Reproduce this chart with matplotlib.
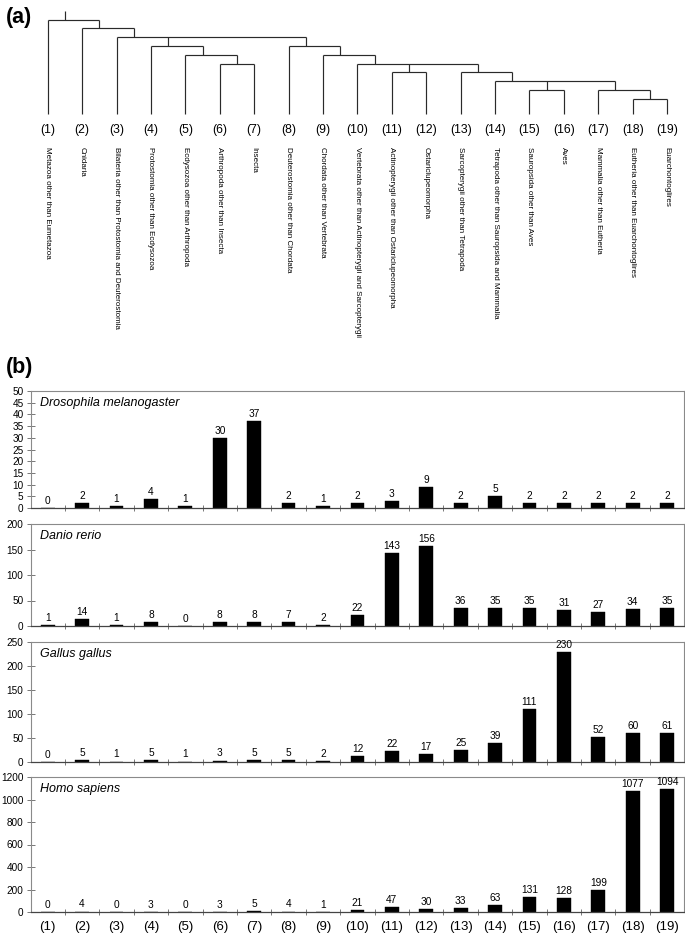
import matplotlib
matplotlib.use("Agg")
import matplotlib.pyplot as plt
import numpy as np

plt.rcParams['font.family'] = ['Liberation Sans', 'DejaVu Sans']

# ---------------- data ----------------
clade_ids = [f"({i})" for i in range(1, 20)]
clade_names = [
    "Metazoa other than Eumetazoa",
    "Cnidaria",
    "Bilateria other than Protostomia and Deuterostomia",
    "Protostomia other than Ecdysozoa",
    "Ecdysozoa other than Arthropoda",
    "Arthropoda other than Insecta",
    "Insecta",
    "Deuterostomia other than Chordata",
    "Chordata other than Vertebrata",
    "Vertebrata other than Actinopterygii and Sarcopterygii",
    "Actinopterygii other than Ostariclupeomorpha",
    "Ostariclupeomorpha",
    "Sarcopterygii other than Tetrapoda",
    "Tetrapoda other than Sauropsida and Mammalia",
    "Sauropsida other than Aves",
    "Aves",
    "Mammalia other than Eutheria",
    "Eutheria other than Euarchontoglires",
    "Euarchontoglires",
]

species = ["Drosophila melanogaster", "Danio rerio", "Gallus gallus", "Homo sapiens"]
drosophila = [0, 2, 1, 4, 1, 30, 37, 2, 1, 2, 3, 9, 2, 5, 2, 2, 2, 2, 2]
danio = [1, 14, 1, 8, 0, 8, 8, 7, 2, 22, 143, 156, 36, 35, 35, 31, 27, 34, 35]
gallus = [0, 5, 1, 5, 1, 3, 5, 5, 2, 12, 22, 17, 25, 39, 111, 230, 52, 60, 61]
homo = [0, 4, 0, 3, 0, 3, 5, 4, 1, 21, 47, 30, 33, 63, 131, 128, 199, 1077, 1094]
y_max = [50, 200, 250, 1200]
y_step = [5, 50, 50, 200]

# tree topology (leaves are clade numbers)
arthropoda = (6, 7)
ecdysozoa = (5, arthropoda)
protostomia = (4, ecdysozoa)
eutheria = (18, 19)
mammalia = (17, eutheria)
sauropsida = (15, 16)
tetrapoda = (14, sauropsida, mammalia)
sarcopterygii = (13, tetrapoda)
actinopterygii = (11, 12)
vertebrata = (10, actinopterygii, sarcopterygii)
chordata = (9, vertebrata)
deuterostomia = (8, chordata)
bilateria = (3, protostomia, deuterostomia)
eumetazoa = (2, bilateria)
metazoa = (1, eumetazoa)

# ---------------- figure ----------------
W, H = 685, 936
fig = plt.figure(figsize=(W / 100, H / 100), dpi=100)

AX_L, AX_R = 30.5, 684.3


def rect(top, bottom):
    return [AX_L / W, 1 - bottom / H, (AX_R - AX_L) / W, (bottom - top) / H]


# ---- (a) tree ----
tree_ax = fig.add_axes(rect(0, 145))
tree_ax.set_xlim(0.5, 19.5)
tree_ax.set_ylim(145, 0)
tree_ax.axis('off')

ROOT_Y, STEP, LEAF_Y, STUB_Y = 19.5, 8.8, 114, 11
line_kw = dict(color='#2a2a2a', lw=0.85, solid_capstyle='butt')


def draw(node, depth):
    """Draw clade; return (connector x, y, left end of its bar)."""
    if isinstance(node, int):
        return float(node), LEAF_Y, float(node)
    y = ROOT_Y + depth * STEP
    kids = [draw(c, depth + 1) for c in node]
    xs = [k[0] for k in kids]
    tree_ax.plot([min(xs), max(xs)], [y, y], **line_kw)
    for kx, ky, _ in kids:
        tree_ax.plot([kx, kx], [y, ky], **line_kw)
    cx = (kids[0][0] + kids[1][2]) / 2
    return cx, y, min(xs)


root_x, root_y, _ = draw(metazoa, 0)
tree_ax.plot([root_x, root_x], [STUB_Y, root_y], **line_kw)

for i, (cid, name) in enumerate(zip(clade_ids, clade_names), start=1):
    tree_ax.text(i, 130, cid, ha='center', va='center', fontsize=8.8)
    tree_ax.text(i, 147, name, ha='center', va='top', rotation=270,
                 fontsize=5.8)

fig.text(6 / W, 1 - 17 / H, "(a)", fontsize=15.5, fontweight='bold',
         va='center', ha='left')
fig.text(6 / W, 1 - 367 / H, "(b)", fontsize=15.5, fontweight='bold',
         va='center', ha='left')

# ---- (b) bar panels ----
panels = [(391, 508), (524, 626), (642, 762), (777, 912)]
series = [drosophila, danio, gallus, homo]
x = np.arange(1, 20)

for k, ((top, bot), vals, name, ymax, ystep) in enumerate(
        zip(panels, series, species, y_max, y_step)):
    ax = fig.add_axes(rect(top, bot))
    ax.bar(x, vals, width=0.4, color='black', edgecolor='black', lw=0.3)
    ax.set_xlim(0.5, 19.5)
    ax.set_ylim(0, ymax)
    ax.set_yticks(np.arange(0, ymax + 1, ystep))
    ax.set_xticks(np.arange(1.5, 19.5, 1))
    ax.set_xticklabels([])
    ax.tick_params(axis='y', direction='inout', length=6, width=0.7,
                   color='#777777', labelsize=7.2, pad=2)
    ax.tick_params(axis='x', direction='inout', length=4, width=0.7,
                   color='#777777')
    for s in ('top', 'right', 'left'):
        ax.spines[s].set_color('#8a8a8a')
        ax.spines[s].set_linewidth(0.8)
    ax.spines['bottom'].set_color('#444444')
    ax.spines['bottom'].set_linewidth(0.9)
    for xi, v in zip(x, vals):
        ax.annotate(str(v), (xi, v), xytext=(0, 1.5), textcoords='offset points',
                    ha='center', va='bottom', fontsize=7.3)
    ax.text(9.5 / (AX_R - AX_L), 1 - 12 / (bot - top), name,
            transform=ax.transAxes, style='italic', fontsize=9,
            ha='left', va='center')
    if k == len(panels) - 1:
        for xi, cid in zip(x, clade_ids):
            ax.annotate(cid, (xi, 0), xytext=(0, -10.5),
                        textcoords='offset points', ha='center', va='center',
                        fontsize=9.5, annotation_clip=False)

fig.savefig("out.png", dpi=100)
